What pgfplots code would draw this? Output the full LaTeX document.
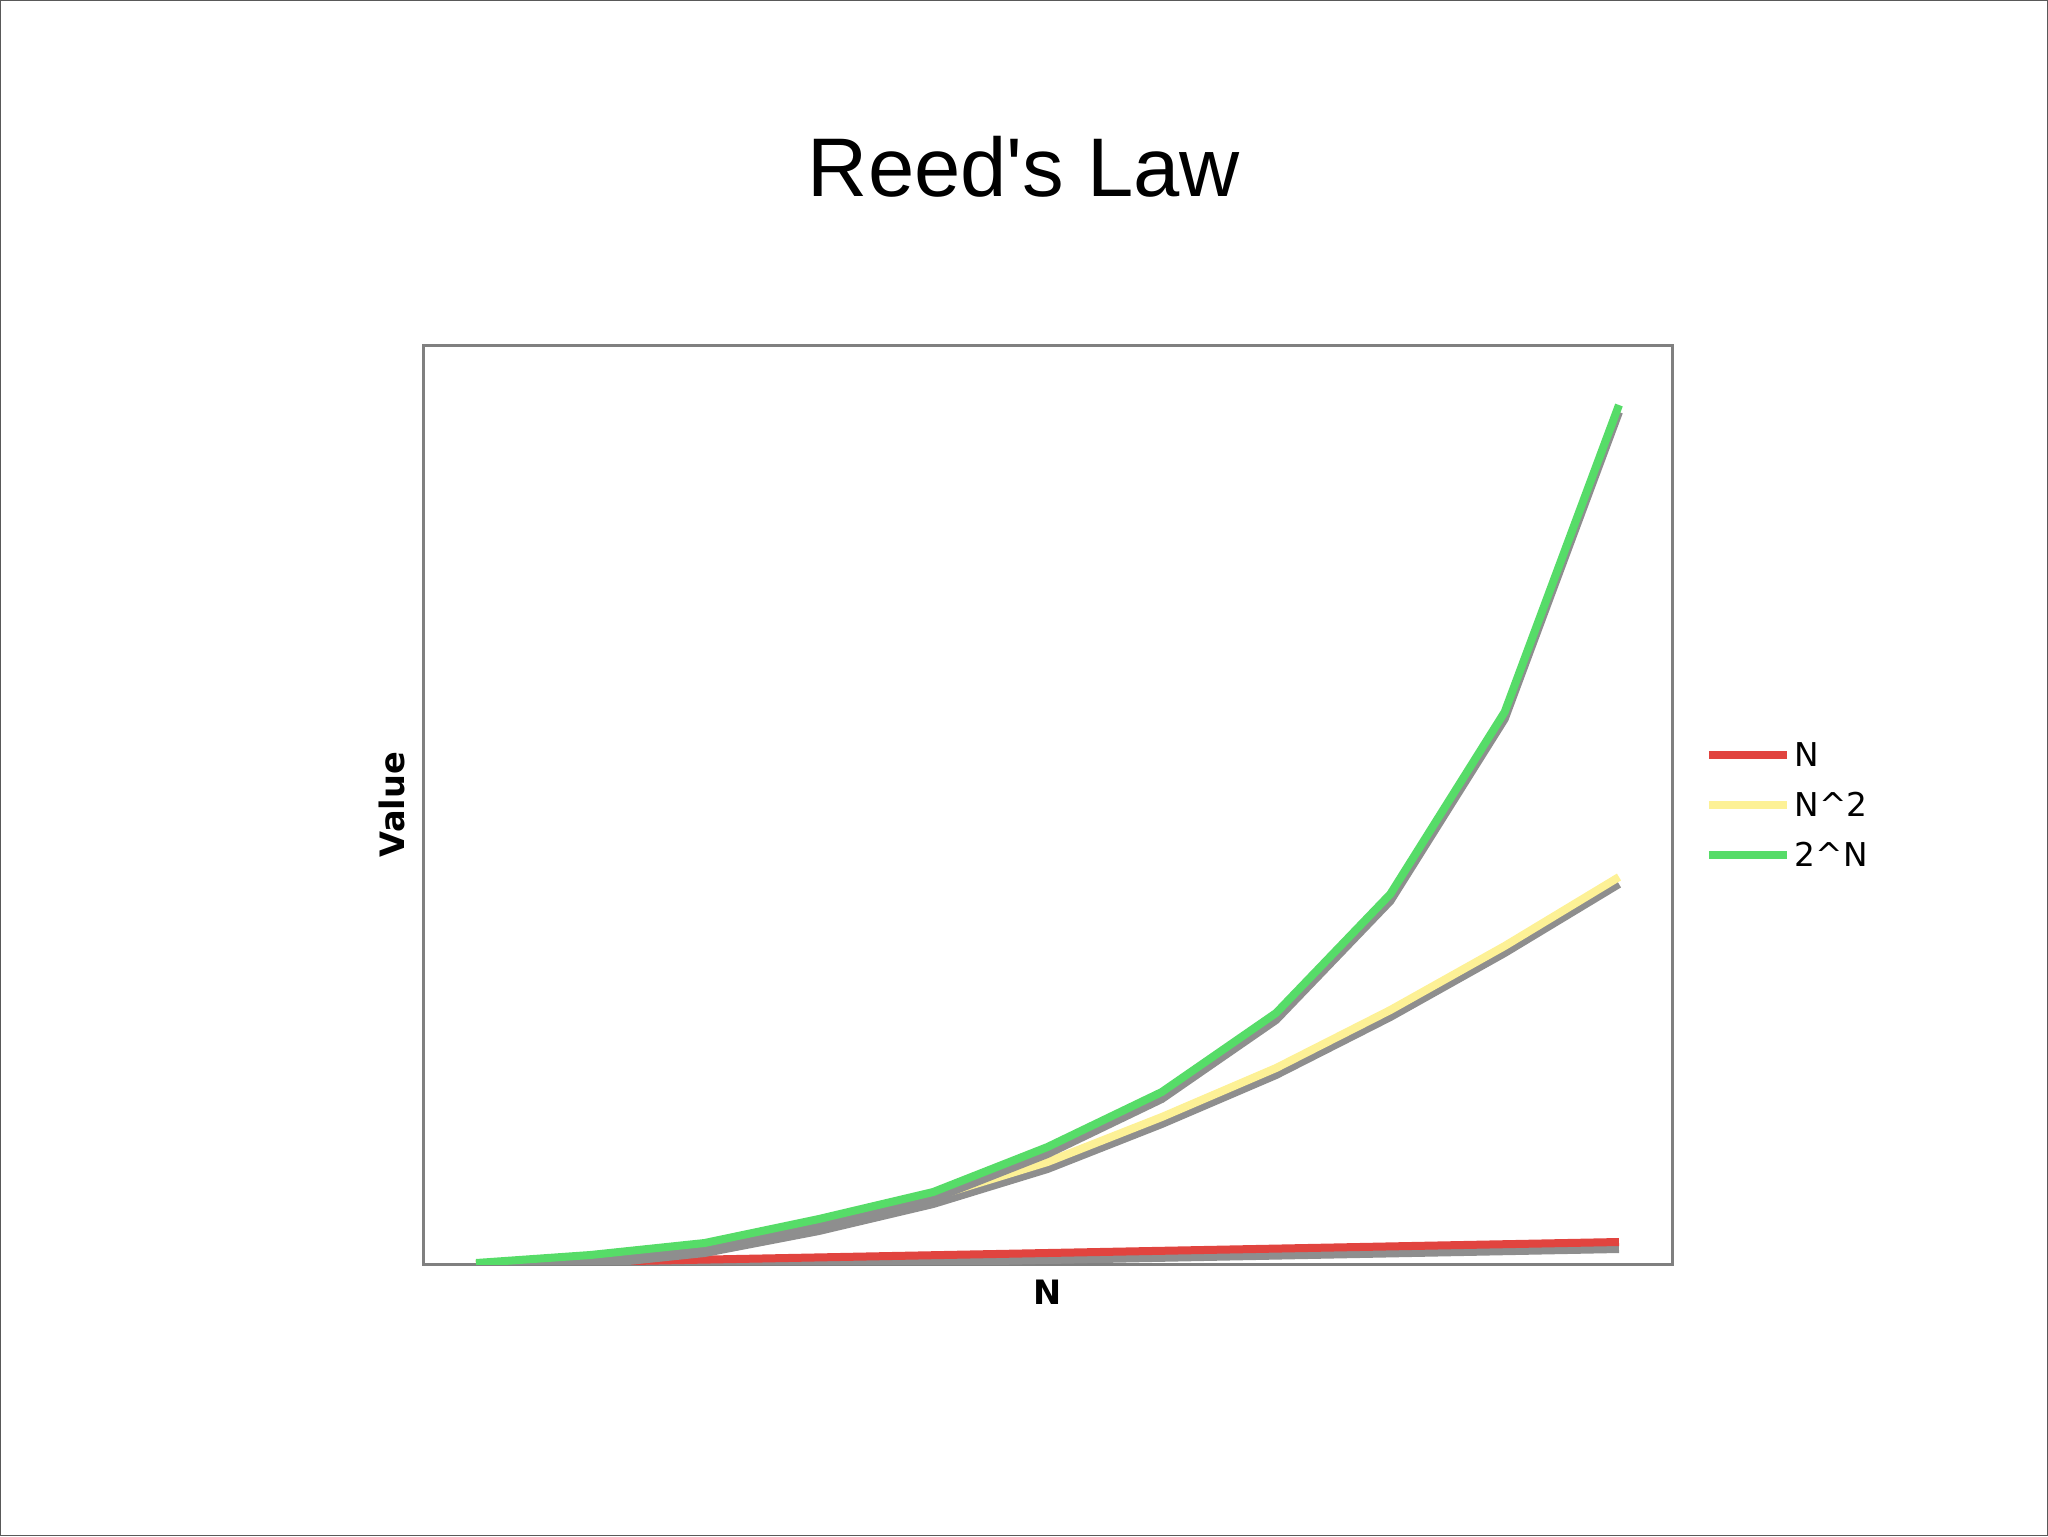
\documentclass[border=0pt]{standalone}
\usepackage{fontspec}
\setmainfont{Liberation Sans}
\newfontfamily\dejavu{DejaVu Sans}
\usepackage{pgfplots}
\usepackage{pgfplotstable}
\pgfplotsset{compat=1.18}

\definecolor{nred}{HTML}{E1443F}
\definecolor{nyellow}{HTML}{FDF196}
\definecolor{ngreen}{HTML}{56DC68}
\definecolor{shadow}{HTML}{8E8E8E}
\definecolor{framegray}{HTML}{808080}

% values (no scale on the y axis)
\pgfplotstableread{
n  lin   sq   ex
0  0     0    1
1  2.2   6    9
2  4.4   18   21
3  6.6   40   45
4  8.8   67   72
5  11    102  117
6  13.2  147  172
7  15.4  196  251
8  17.6  254  370
9  19.8  318  552
10 22    387  859
}\reed

\begin{document}
\begin{tikzpicture}[x=1pt,y=1pt]
\useasboundingbox (0,0) rectangle (512,384);
\draw[black!65, line width=0.3pt] (0.15,0.15) rectangle (511.85,383.85);
\node[font=\fontsize{20.8}{24}\selectfont, anchor=base] at (256,334.75) {Reed\textquotesingle s Law};
\begin{axis}[
    at={(105.75pt,68pt)}, anchor=south west,
    scale only axis,
    width=312.25pt, height=229.75pt,
    xmin=-0.464, xmax=10.464,
    ymin=0, ymax=919,
    xtick=\empty, ytick=\empty,
    axis line style={framegray, line width=0.75pt},
    xlabel={N}, ylabel={Value},
    label style={font=\dejavu\bfseries\fontsize{8.4}{10}\selectfont, inner sep=0pt, outer sep=0pt},
    x label style={at={(axis description cs:0.5,-0.0174)}, anchor=north},
    y label style={at={(axis description cs:-0.0144,0.5)}, anchor=south},
    legend style={at={(1,0.5)}, anchor=west, xshift=8pt,
        draw=none, fill=none, inner sep=0pt,
        font=\dejavu\fontsize{8.2}{10}\selectfont,
        nodes={inner sep=1pt, text height=6pt, text depth=0pt},
        cells={anchor=west}, row sep=4.5pt},
    legend image code/.code={\draw[#1, line width=2pt] (0pt,0pt) -- (19.5pt,0pt);},
]
\addplot[shadow, line width=2pt, yshift=-1.75pt, forget plot] table[x=n, y=lin] {\reed};
\addplot[nred, line width=2pt] table[x=n, y=lin] {\reed};
\addlegendentry{N}
\addplot[shadow, line width=2pt, yshift=-1.75pt, forget plot] table[x=n, y=sq] {\reed};
\addplot[nyellow, line width=2pt] table[x=n, y=sq] {\reed};
\addlegendentry{N\textasciicircum 2}
\addplot[shadow, line width=2pt, yshift=-1.75pt, forget plot] table[x=n, y=ex] {\reed};
\addplot[ngreen, line width=2pt] table[x=n, y=ex] {\reed};
\addlegendentry{2\textasciicircum N}
\end{axis}
\end{tikzpicture}
\end{document}
